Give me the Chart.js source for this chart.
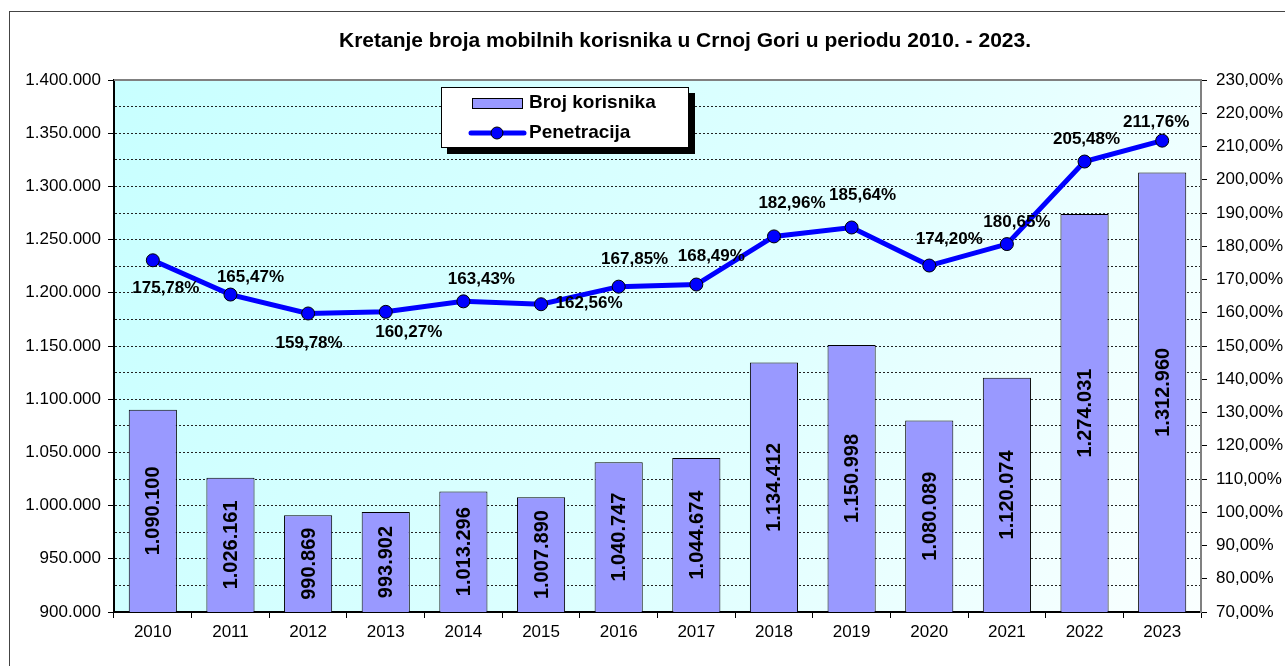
<!DOCTYPE html>
<html>
<head>
<meta charset="utf-8">
<script src="https://cdn.jsdelivr.net/npm/chart.js@4.4.1/dist/chart.umd.min.js"></script>
<style>
  html, body { margin: 0; padding: 0; background: #fff; }
  #wrap { width: 1285px; height: 666px; position: relative; }
</style>
</head>
<body>
<div id="wrap"><canvas id="c" width="1285" height="666"></canvas></div>
<script>
const titleText = 'Kretanje broja mobilnih korisnika u Crnoj Gori u periodu 2010. - 2023.';
const years = ['2010','2011','2012','2013','2014','2015','2016','2017','2018','2019','2020','2021','2022','2023'];
const users = [1090100, 1026161, 990869, 993902, 1013296, 1007890, 1040747, 1044674, 1134412, 1150998, 1080089, 1120074, 1274031, 1312960];
const penetration = [175.78, 165.47, 159.78, 160.27, 163.43, 162.56, 167.85, 168.49, 182.96, 185.64, 174.20, 180.65, 205.48, 211.76];
const seriesNames = ['Broj korisnika', 'Penetracija'];

function fmtThousands(v) {
  return String(Math.round(v)).replace(/\B(?=(\d{3})+(?!\d))/g, '.');
}
function fmtPct(v) {
  return v.toFixed(2).replace('.', ',') + '%';
}

const FONT = "'Liberation Sans', Arial, sans-serif";
const BAR_COLOR = '#9999FF';
const LINE_COLOR = '#0000FF';

const framePlugin = {
  id: 'frame',
  beforeDraw(chart) {
    const ctx = chart.ctx;
    const a = chart.chartArea;
    ctx.save();
    ctx.fillStyle = '#fff';
    ctx.fillRect(0, 0, chart.width, chart.height);
    ctx.strokeStyle = '#444';
    ctx.lineWidth = 1;
    ctx.strokeRect(9.5, 11.5, chart.width + 20, chart.height + 20);
    const g = ctx.createLinearGradient(a.left, a.top, a.right, a.bottom);
    g.addColorStop(0, '#C8FFFF');
    g.addColorStop(0.6, '#E0FFFF');
    g.addColorStop(1, '#FAFFFF');
    ctx.fillStyle = g;
    ctx.fillRect(a.left, a.top, a.right - a.left, a.bottom - a.top);
    ctx.restore();
  },
  afterDraw(chart) {
    const ctx = chart.ctx;
    const a = chart.chartArea;
    ctx.save();
    ctx.strokeStyle = '#808080';
    ctx.lineWidth = 2;
    ctx.beginPath();
    ctx.moveTo(a.left, a.top);
    ctx.lineTo(a.right, a.top);
    ctx.stroke();
    ctx.fillStyle = '#000';
    ctx.font = 'bold 21px ' + FONT;
    ctx.textAlign = 'center';
    ctx.textBaseline = 'middle';
    ctx.fillText(titleText, 685, 41);
    const lx = 441, ly = 87, lw = 248, lh = 61;
    ctx.fillStyle = '#000';
    ctx.fillRect(lx + 6, ly + 6, lw, lh);
    ctx.fillStyle = '#fff';
    ctx.fillRect(lx, ly, lw, lh);
    ctx.strokeStyle = '#000';
    ctx.lineWidth = 1;
    ctx.strokeRect(lx + 0.5, ly + 0.5, lw - 1, lh - 1);
    ctx.fillStyle = BAR_COLOR;
    ctx.fillRect(472, 98, 51, 10);
    ctx.strokeRect(472.5, 98.5, 50, 10);
    ctx.strokeStyle = LINE_COLOR;
    ctx.lineWidth = 5;
    ctx.lineCap = 'round';
    ctx.beginPath();
    ctx.moveTo(471, 133);
    ctx.lineTo(524, 133);
    ctx.stroke();
    ctx.beginPath();
    ctx.arc(497, 133, 6, 0, Math.PI * 2);
    ctx.fillStyle = LINE_COLOR;
    ctx.fill();
    ctx.lineWidth = 1;
    ctx.strokeStyle = '#000';
    ctx.stroke();
    ctx.fillStyle = '#000';
    ctx.font = 'bold 19px ' + FONT;
    ctx.textAlign = 'left';
    ctx.textBaseline = 'middle';
    ctx.fillText(chart.data.datasets[0].label, 529, 103);
    ctx.fillText(chart.data.datasets[1].label, 529, 133);
    ctx.restore();
  }
};

const labelPlugin = {
  id: 'valueLabels',
  afterDatasetsDraw(chart) {
    const ctx = chart.ctx;
    const ys = chart.scales.y;
    ctx.save();
    ctx.fillStyle = '#000';
    const barMeta = chart.getDatasetMeta(0);
    ctx.font = 'bold 20px ' + FONT;
    ctx.textAlign = 'center';
    ctx.textBaseline = 'middle';
    barMeta.data.forEach((el, i) => {
      const v = chart.data.datasets[0].data[i];
      const top = ys.getPixelForValue(v);
      const bottom = ys.bottom;
      const cy = (top + bottom) / 2;
      ctx.save();
      ctx.translate(el.x + 1, cy);
      ctx.rotate(-Math.PI / 2);
      ctx.fillText(fmtThousands(v), 0, 0);
      ctx.restore();
    });
    const offs = [[13,28],[20,-17],[1,30],[23,20],[18,-22],[48,-1],[16,-27],[15,-28],[18,-33],[11,-32],[20,-26],[10,-22],[2,-22],[-6,-18]];
    const lineMeta = chart.getDatasetMeta(1);
    ctx.font = 'bold 17px ' + FONT;
    lineMeta.data.forEach((el, i) => {
      const o = offs[i];
      ctx.fillText(fmtPct(chart.data.datasets[1].data[i]), el.x + o[0], el.y + o[1]);
    });
    ctx.restore();
  }
};

new Chart(document.getElementById('c'), {
  data: {
    labels: years,
    datasets: [
      {
        type: 'bar',
        label: seriesNames[0],
        data: users,
        yAxisID: 'y',
        backgroundColor: BAR_COLOR,
        borderColor: '#000',
        borderWidth: 1,
        categoryPercentage: 1,
        barPercentage: 0.62,
        order: 2
      },
      {
        type: 'line',
        label: seriesNames[1],
        data: penetration,
        yAxisID: 'y1',
        borderColor: LINE_COLOR,
        borderWidth: 5,
        pointRadius: 6.5,
        pointBackgroundColor: LINE_COLOR,
        pointBorderColor: '#000',
        pointBorderWidth: 1,
        tension: 0,
        order: 1
      }
    ]
  },
  options: {
    responsive: false,
    animation: false,
    devicePixelRatio: 1,
    layout: { padding: { top: 80, left: 0, right: 0, bottom: 0 } },
    plugins: {
      legend: { display: false },
      title: { display: false },
      tooltip: { enabled: false }
    },
    scales: {
      x: {
        offset: true,
        grid: {
          offset: true,
          drawOnChartArea: false,
          drawTicks: true,
          tickLength: 6,
          tickColor: '#000',
          tickWidth: 1
        },
        border: { display: true, color: '#000', width: 2 },
        ticks: { color: '#000', font: { family: FONT, size: 17 }, padding: 4, maxRotation: 0 },
        afterFit(s) { s.height = 54; }
      },
      y: {
        position: 'left',
        min: 900000,
        max: 1400000,
        ticks: {
          stepSize: 25000,
          color: '#000',
          font: { family: FONT, size: 17 },
          padding: 7,
          callback: (v) => (v % 50000 === 0 ? fmtThousands(v) : '')
        },
        grid: {
          color: (c) => (c.tick && (c.tick.value === 900000 || c.tick.value === 1400000) ? 'rgba(0,0,0,0)' : '#222'),
          lineWidth: 1,
          tickLength: 6,
          tickColor: (c) => (c.tick && c.tick.value % 50000 === 0 ? '#000' : 'rgba(0,0,0,0)'),
          tickWidth: 1
        },
        border: { display: true, color: '#000', width: 2, dash: [2, 2] },
        afterFit(s) { s.width = 114; }
      },
      y1: {
        position: 'right',
        min: 70,
        max: 230,
        ticks: {
          stepSize: 10,
          color: '#000',
          font: { family: FONT, size: 17 },
          padding: 9,
          callback: (v) => fmtPct(v)
        },
        grid: {
          drawOnChartArea: false,
          tickLength: 6,
          tickColor: '#000',
          tickWidth: 1
        },
        border: { display: true, color: '#808080', width: 2 },
        afterFit(s) { s.width = 84; }
      }
    }
  },
  plugins: [framePlugin, labelPlugin]
});
</script>
</body>
</html>
